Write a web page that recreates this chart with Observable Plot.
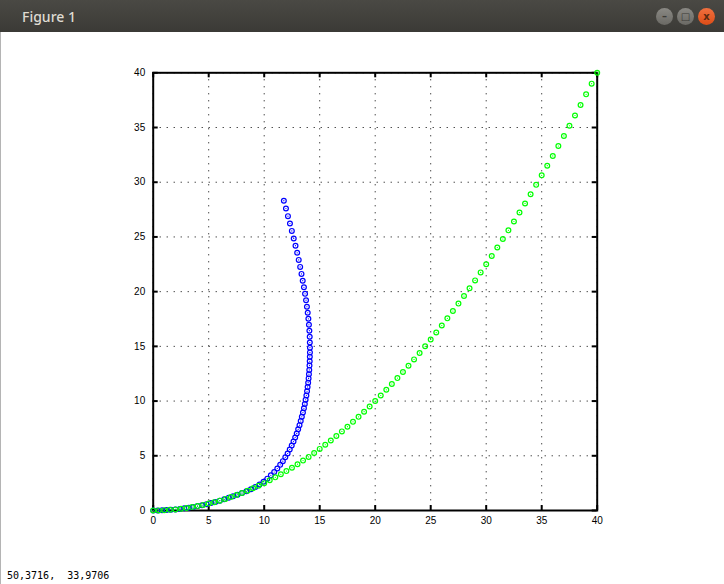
<!DOCTYPE html>
<html>
<head>
<meta charset="utf-8">
<script src="https://cdn.jsdelivr.net/npm/d3@7"></script>
<script src="https://cdn.jsdelivr.net/npm/@observablehq/plot@0.6"></script>
<style>
  html, body { margin: 0; padding: 0; background: #ffffff; }
  body { width: 724px; height: 584px; position: relative; overflow: hidden; }
  #titlebar { position: absolute; left: 0; top: 0; width: 724px; height: 32px;
    background: linear-gradient(#4a4944, #3b3a36); }
  #title { position: absolute; left: 22px; top: 7px; font: 500 14px "Noto Sans", "Open Sans", sans-serif; color: #dfdbd2; }
  .btn { position: absolute; top: 8px; width: 17px; height: 17px; border-radius: 50%;
    background: linear-gradient(#8a8984, #6a6964); color: #3c3b37; font: bold 10px "DejaVu Sans", sans-serif;
    text-align: center; line-height: 17px; }
  #close { background: linear-gradient(#f0703f, #dd4d17); color: #5a2a10; }
  #chart { position: absolute; left: 0; top: 32px; }
  #border { position: absolute; left: 0; top: 32px; width: 1px; height: 552px; background: #b4b4b4; }
  #status { position: absolute; left: 7px; top: 570px; font: 10px "DejaVu Sans Mono", monospace; color: #000; white-space: pre; line-height: 12px; }
</style>
</head>
<body>
<div id="titlebar">
  <div id="title">Figure 1</div>
  <div class="btn" style="left:656px">&#8211;</div>
  <div class="btn" style="left:677px">&#9633;</div>
  <div class="btn" id="close" style="left:698px">x</div>
</div>
<div id="chart"></div>
<div id="border"></div>
<div id="status">50,3716,  33,9706</div>
<script>
// Tick values
const xTicks = [0, 5, 10, 15, 20, 25, 30, 35, 40];
const yTicks = [0, 5, 10, 15, 20, 25, 30, 35, 40];

// Green series
const greenX = [0,0.5,1,1.5,2,2.5,3,3.5,4,4.5,5,5.5,6,6.5,7,7.5,8,8.5,9,9.5,10,10.5,11,11.5,12,12.5,13,13.5,14,14.5,15,15.5,16,16.5,17,17.5,18,18.5,19,19.5,20,20.5,21,21.5,22,22.5,23,23.5,24,24.5,25,25.5,26,26.5,27,27.5,28,28.5,29,29.5,30,30.5,31,31.5,32,32.5,33,33.5,34,34.5,35,35.5,36,36.5,37,37.5,38,38.5,39,39.5,40];
const greenY = [0,0.01,0.03,0.06,0.1,0.16,0.23,0.31,0.4,0.51,0.63,0.76,0.9,1.06,1.23,1.41,1.6,1.81,2.03,2.26,2.5,2.76,3.03,3.31,3.6,3.91,4.23,4.56,4.9,5.26,5.63,6.01,6.4,6.81,7.23,7.66,8.1,8.56,9.03,9.51,10,10.51,11.03,11.56,12.1,12.66,13.23,13.81,14.4,15.01,15.63,16.26,16.9,17.56,18.23,18.91,19.6,20.31,21.03,21.76,22.5,23.26,24.03,24.81,25.6,26.41,27.23,28.06,28.9,29.76,30.63,31.51,32.4,33.31,34.23,35.16,36.1,37.06,38.03,39.01,40];

// Blue series
const blueX = [0,0.4,0.8,1.2,1.6,2.0,2.4,2.8,3.2,3.6,4.0,4.4,4.8,5.2,5.6,6.0,6.4,6.8,7.2,7.6,8.0,8.4,8.8,
  9.2,9.58,9.94,10.28,10.6,10.9,11.18,11.44,11.68,11.9,12.11,12.3,12.48,12.64,12.79,12.93,13.06,13.18,13.29,13.39,13.49,13.58,13.66,13.73,13.8,13.86,13.91,13.96,14.0,14.03,14.06,14.08,14.1,14.11,14.12,14.12,14.11,14.1,
  14.07,14.03,13.98,13.92,13.85,13.77,13.68,13.58,13.47,13.36,13.24,13.11,12.97,12.82,12.66,12.49,12.32,12.14,11.96,11.77];
const blueY = [0,0,0.02,0.04,0.06,0.1,0.14,0.2,0.26,0.32,0.4,0.48,0.58,0.68,0.78,0.9,1.02,1.16,1.3,1.44,1.6,1.76,1.94,
  2.14,2.37,2.63,2.91,3.21,3.52,3.84,4.17,4.51,4.86,5.21,5.57,5.93,6.3,6.67,7.04,7.42,7.8,8.18,8.56,8.95,9.34,9.73,10.12,10.51,10.9,11.29,11.68,12.07,12.46,12.85,13.24,13.64,14.04,14.45,14.88,15.35,15.88,
  16.43,16.97,17.52,18.07,18.62,19.22,19.8,20.4,21.0,21.62,22.26,22.9,23.55,24.2,24.86,25.55,26.23,26.9,27.6,28.31];

const green = greenX.map((x, i) => ({x, y: greenY[i]}));
const blue = blueX.map((x, i) => ({x, y: blueY[i]}));

const W = 724, H = 520;
const mL = 152.7, mR = 127.3, mT = 40.3, mB = 42;
const innerW = W - mL - mR, innerH = H - mT - mB;
const tickLen = 5;

const chart = Plot.plot({
  width: W, height: H,
  marginLeft: mL, marginRight: mR, marginTop: mT, marginBottom: mB,
  style: { fontFamily: "'Liberation Sans', Arial, sans-serif", fontSize: "10px", background: "white", color: "black" },
  x: { domain: [0, 40], label: null },
  y: { domain: [0, 40], label: null },
  marks: [
    Plot.gridX(xTicks, { stroke: "black", strokeOpacity: 1, strokeWidth: 1, strokeDasharray: "1,6" }),
    Plot.gridY(yTicks, { stroke: "black", strokeOpacity: 1, strokeWidth: 1, strokeDasharray: "1,6" }),
    Plot.tickX(xTicks, { x: d => d, insetTop: innerH - tickLen, strokeWidth: 2 }),
    Plot.tickX(xTicks, { x: d => d, insetBottom: innerH - tickLen, strokeWidth: 2 }),
    Plot.tickY(yTicks, { y: d => d, insetRight: innerW - tickLen, strokeWidth: 2 }),
    Plot.tickY(yTicks, { y: d => d, insetLeft: innerW - tickLen, strokeWidth: 2 }),
    Plot.frame({ stroke: "black", strokeWidth: 2 }),
    Plot.axisX(xTicks, { anchor: "bottom", tickSize: 0, tickPadding: 6, label: null, tickFormat: d => String(d) }),
    Plot.axisY(yTicks, { anchor: "left", tickSize: 0, tickPadding: 8, label: null, tickFormat: d => String(d) }),
    Plot.dot(blue, { x: "x", y: "y", r: 2.4, stroke: "#0000ff", strokeWidth: 1.2, fill: "none" }),
    Plot.dot(blue, { x: "x", y: "y", r: 0.6, fill: "#0000ff" }),
    Plot.dot(green, { x: "x", y: "y", r: 2.4, stroke: "#00ff00", strokeWidth: 1.2, fill: "none" }),
    Plot.dot(green, { x: "x", y: "y", r: 0.6, fill: "#00ff00" })
  ]
});
document.getElementById("chart").appendChild(chart);
</script>
</body>
</html>
